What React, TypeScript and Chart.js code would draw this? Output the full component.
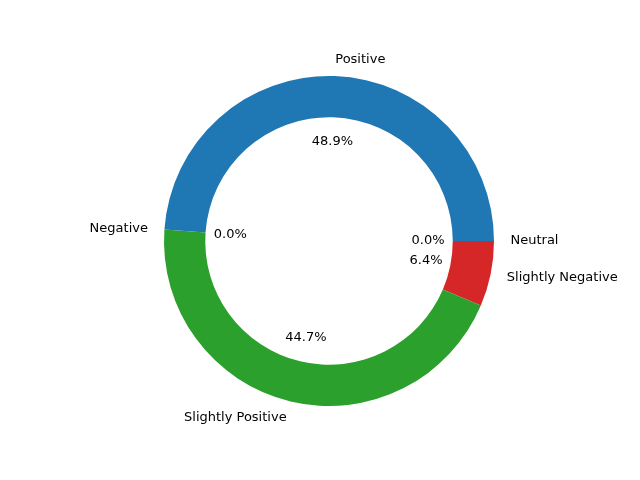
import {useEffect, useRef} from "react";
import {Chart, registerables} from "chart.js";

Chart.register(...registerables);

// clockwise order starting at east (matplotlib draws counter-clockwise)
const labels = ["Neutral", "Slightly Negative", "Slightly Positive", "Negative", "Positive"];
const values = [0.0, 6.4, 44.7, 0.0, 48.9];
const colors = ["#9467bd", "#d62728", "#2ca02c", "#ff7f0e", "#1f77b4"];

const FONT = "13px 'DejaVu Sans'";

const textPlugin = {
    id: "pieText",
    afterDraw(chart: any) {
        const ctx = chart.ctx;
        const meta = chart.getDatasetMeta(0);
        ctx.save();
        ctx.font = FONT;
        ctx.fillStyle = "#000";
        ctx.textBaseline = "middle";
        meta.data.forEach((arc: any, i: number) => {
            const mid = (arc.startAngle + arc.endAngle) / 2;
            const r = arc.outerRadius;
            const c = Math.cos(mid), s = Math.sin(mid);
            ctx.textAlign = c >= 0 ? "left" : "right";
            ctx.fillText(labels[i], arc.x + 1.1 * r * c, arc.y + 1.1 * r * s);
            ctx.textAlign = "center";
            ctx.fillText(values[i].toFixed(1) + "%", arc.x + 0.6 * r * c, arc.y + 0.6 * r * s);
        });
        ctx.restore();
    },
};

const App = () => {
    const canvasRef = useRef<HTMLCanvasElement>(null);

    useEffect(() => {
        if (!canvasRef.current) return;
        const chart = new Chart(canvasRef.current, {
            type: "doughnut",
            data: {
                labels,
                datasets: [{data: values, backgroundColor: colors, borderWidth: 0}],
            },
            options: {
                responsive: false,
                animation: false,
                rotation: 90,
                cutout: "75%",
                radius: 165,
                layout: {padding: {left: 18, top: 2}},
                plugins: {legend: {display: false}, tooltip: {enabled: false}},
            },
            plugins: [textPlugin],
        });
        return () => {
            chart.destroy();
        };
    }, []);

    return (
        <div style={{position: "absolute", left: 0, top: 0, width: 640, height: 480, background: "#fff"}}>
            <canvas ref={canvasRef} width={640} height={480}></canvas>
        </div>
    );
};

export default App;
